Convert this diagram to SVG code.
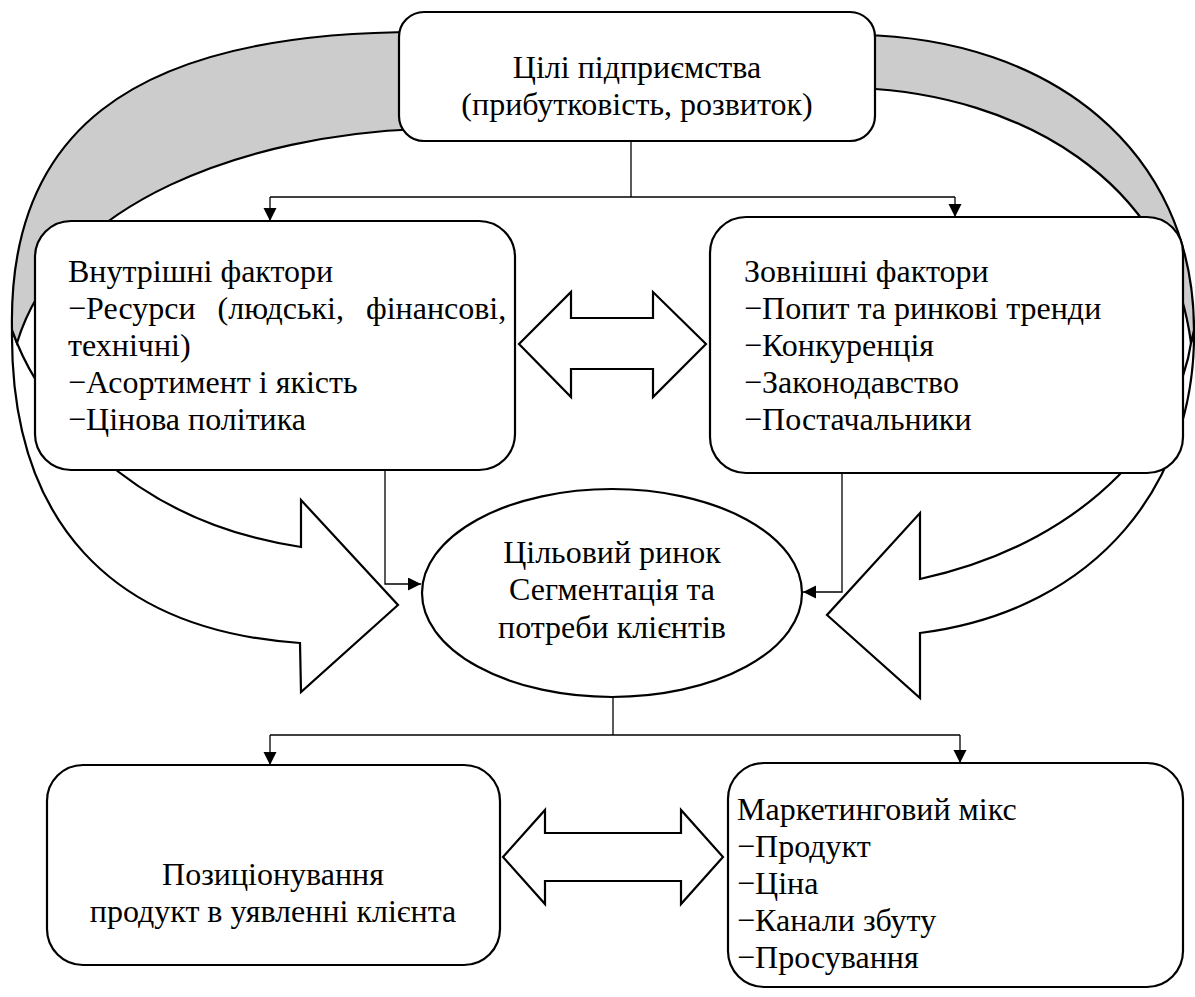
<svg xmlns="http://www.w3.org/2000/svg" width="1195" height="997" viewBox="0 0 1195 997">
<style>
.box{fill:#fff;stroke:#000;stroke-width:2.2}
.band{stroke:#000;stroke-width:2.2;stroke-linejoin:miter}
.back{fill:#cccccc}
.front{fill:#fff}
.con{fill:none;stroke:#000;stroke-width:1.3}
.blk{fill:#fff;stroke:#000;stroke-width:2.2}
.t{font-family:"Liberation Serif","Times New Roman","DejaVu Serif",serif;font-size:32px;fill:#000}
.c{text-anchor:middle}
</style>
<defs>
<marker id="ah" markerUnits="userSpaceOnUse" markerWidth="14" markerHeight="14" refX="13" refY="6.5" orient="auto">
<path d="M0,0 L13,6.5 L0,13 Z" fill="#000"/>
</marker>
</defs>
<rect width="1195" height="997" fill="#fff"/>
<g id="curved-arrows">
<g id="curved-left">
<path class="band front" d="M12,330 C10,520 110,630 300,643 L301,692 L398,605 L301,500 L301,547 C120,520 40,400 17,343 Z"/>
<path class="band back" d="M420,32 C120,32 8,140 12,330 L17,343 C60,200 250,135 420,129 Z"/>
</g>
<g id="curved-right">
<path class="band front" d="M1194,330 C1196,480 1100,610 920,633 L920,698 L827,615 L920,513 L920,579 C1100,540 1180,420 1191,343 Z"/>
<path class="band back" d="M860,35 C1050,38 1194,150 1194,330 L1191,343 C1170,180 1020,95 860,88 Z"/>
</g>
</g>
<g id="node-goals">
<rect class="box" x="399" y="12" width="476" height="129" rx="25"/>
<text class="t c" x="637" y="78">Цілі підприємства</text>
<text class="t c" x="637" y="115">(прибутковість, розвиток)</text>
</g>
<g id="node-internal">
<rect class="box" x="35" y="221" width="480" height="249" rx="36"/>
<text class="t" x="68" y="282">Внутрішні фактори</text>
<text class="t" x="68" y="319" word-spacing="14">−Ресурси (людські, фінансові,</text>
<text class="t" x="68" y="356">технічні)</text>
<text class="t" x="68" y="393">−Асортимент і якість</text>
<text class="t" x="68" y="430">−Цінова політика</text>
</g>
<g id="node-external">
<rect class="box" x="710" y="217" width="473" height="256" rx="36"/>
<text class="t" x="744" y="282">Зовнішні фактори</text>
<text class="t" x="744" y="319">−Попит та ринкові тренди</text>
<text class="t" x="744" y="356">−Конкуренція</text>
<text class="t" x="744" y="393">−Законодавство</text>
<text class="t" x="744" y="430">−Постачальники</text>
</g>
<g id="node-target">
<ellipse class="box" cx="612" cy="593" rx="190" ry="104"/>
<text class="t c" x="612" y="563">Цільовий ринок</text>
<text class="t c" x="612" y="600">Сегментація та</text>
<text class="t c" x="612" y="638">потреби клієнтів</text>
</g>
<g id="node-positioning">
<rect class="box" x="47" y="765" width="453" height="200" rx="36"/>
<text class="t c" x="273" y="885">Позиціонування</text>
<text class="t c" x="273" y="922">продукт в уявленні клієнта</text>
</g>
<g id="node-mix">
<rect class="box" x="728" y="763" width="455" height="224" rx="36"/>
<text class="t" x="737" y="820">Маркетинговий мікс</text>
<text class="t" x="737" y="857">−Продукт</text>
<text class="t" x="737" y="894">−Ціна</text>
<text class="t" x="737" y="931">−Канали збуту</text>
<text class="t" x="737" y="968">−Просування</text>
</g>
<g id="connectors">
<path class="con" d="M631,141 V197"/>
<path class="con" d="M270,197 H955"/>
<path class="con" d="M270,197 V221" marker-end="url(#ah)"/>
<path class="con" d="M955,197 V217" marker-end="url(#ah)"/>
<path class="con" d="M385,470 V584 H421" marker-end="url(#ah)"/>
<path class="con" d="M842,473 V592 H803" marker-end="url(#ah)"/>
<path class="con" d="M613,697 V735"/>
<path class="con" d="M270,735 H960"/>
<path class="con" d="M270,735 V765" marker-end="url(#ah)"/>
<path class="con" d="M960,735 V763" marker-end="url(#ah)"/>
<polygon class="blk" points="519,344 571,292 571,318 653,318 653,292 706,344 653,397 653,369 571,369 571,397"/>
<polygon class="blk" points="503,857 545,810 545,833 681,833 681,810 723,857 681,904 681,881 545,881 545,904"/>
</g>
</svg>
